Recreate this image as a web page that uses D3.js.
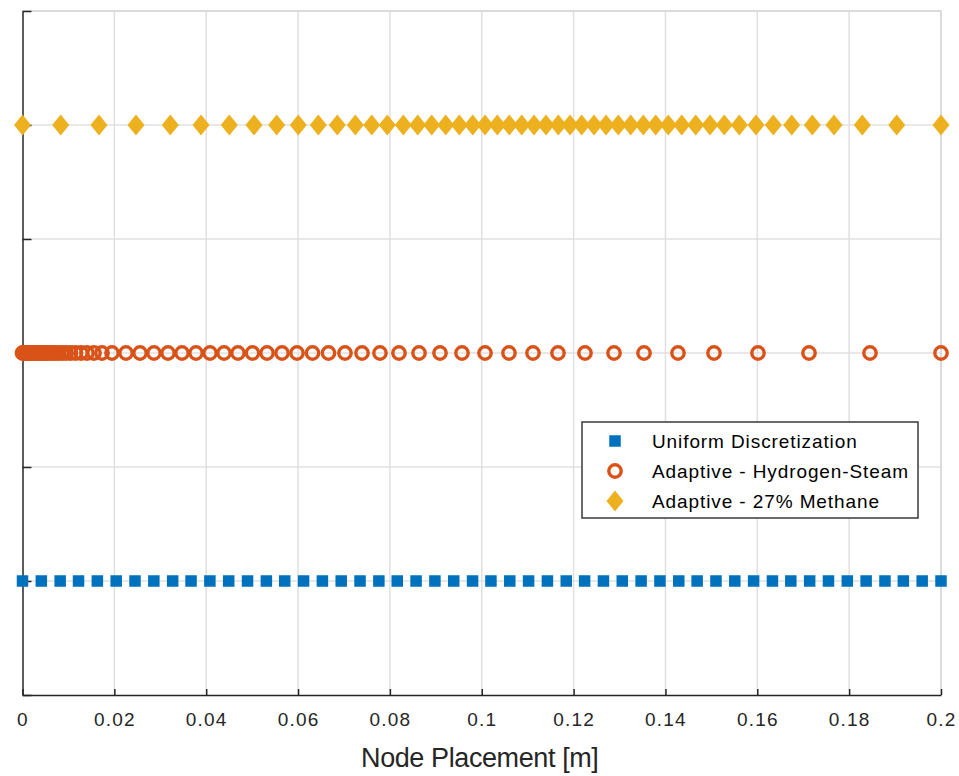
<!DOCTYPE html>
<html>
<head>
<meta charset="utf-8">
<script src="https://cdn.jsdelivr.net/npm/d3@7"></script>
<style>
  body { margin: 0; background: #fff; }
  svg { display: block; font-family: "Liberation Sans", Arial, sans-serif; }
</style>
</head>
<body>
<div id="chart"></div>
<script>
// node positions [m]
const uniformX = [0, 0.0041, 0.0082, 0.0122, 0.0163, 0.0204, 0.0245, 0.0286, 0.0327, 0.0367,
  0.0408, 0.0449, 0.0490, 0.0531, 0.0571, 0.0612, 0.0653, 0.0694, 0.0735, 0.0776,
  0.0816, 0.0857, 0.0898, 0.0939, 0.0980, 0.1020, 0.1061, 0.1102, 0.1143, 0.1184,
  0.1224, 0.1265, 0.1306, 0.1347, 0.1388, 0.1429, 0.1469, 0.1510, 0.1551, 0.1592,
  0.1633, 0.1673, 0.1714, 0.1755, 0.1796, 0.1837, 0.1878, 0.1918, 0.1959, 0.2000];

const hydrogenX = [0, 0.00033, 0.00065, 0.00109, 0.00152, 0.00196, 0.00240, 0.00283, 0.00327, 0.00370,
  0.00414, 0.00457, 0.00501, 0.00544, 0.00599, 0.00653, 0.00719, 0.00784, 0.00860, 0.00947,
  0.01045, 0.01154, 0.01274, 0.01404, 0.01557, 0.01731, 0.01949, 0.02254, 0.02559, 0.02863,
  0.03168, 0.03473, 0.03778, 0.04083, 0.04388, 0.04692, 0.05008, 0.05324, 0.05651, 0.05977,
  0.06315, 0.06663, 0.07022, 0.07393, 0.07784, 0.08198, 0.08634, 0.09091, 0.09570, 0.10071,
  0.10593, 0.11116, 0.11660, 0.12248, 0.12880, 0.13533, 0.14273, 0.15057, 0.16015, 0.17126,
  0.18454, 0.2];

const methaneX = [0, 0.00832, 0.01666, 0.02471, 0.03218, 0.03887, 0.04503, 0.05041, 0.05535, 0.06005,
  0.06441, 0.06855, 0.07247, 0.07604, 0.07943, 0.08292, 0.08605, 0.08910, 0.09215, 0.09511,
  0.09803, 0.10071, 0.10339, 0.10600, 0.10870, 0.11138, 0.11399, 0.11667, 0.11922, 0.12176,
  0.12444, 0.12706, 0.12973, 0.13243, 0.13518, 0.13788, 0.14062, 0.14354, 0.14659, 0.14970,
  0.15281, 0.15608, 0.15972, 0.16348, 0.16749, 0.17198, 0.17670, 0.18286, 0.19036, 0.2];

const seriesNames = ["Uniform Discretization", "Adaptive - Hydrogen-Steam", "Adaptive - 27% Methane"];
const seriesLevels = [1, 3, 5];
const seriesColors = ["#0072BD", "#D95319", "#EDB120"];

const xTicks = [0, 0.02, 0.04, 0.06, 0.08, 0.1, 0.12, 0.14, 0.16, 0.18, 0.2];
const xTickLabels = ["0", "0.02", "0.04", "0.06", "0.08", "0.1", "0.12", "0.14", "0.16", "0.18", "0.2"];
const yTicks = [0, 1, 2, 3, 4, 5, 6];
const xLabel = "Node Placement [m]";

const width = 959, height = 776;
const margin = {top: 11, right: 18, bottom: 81, left: 22.5};

const svg = d3.select("#chart").append("svg")
  .attr("width", width)
  .attr("height", height);

const x = d3.scaleLinear().domain([0, 0.2]).range([margin.left, width - margin.right]);
const y = d3.scaleLinear().domain([0, 6]).range([height - margin.bottom, margin.top]);

const x0 = x.range()[0], x1 = x.range()[1];
const y0 = y.range()[0], y1 = y.range()[1];

// grid
const grid = svg.append("g").attr("stroke", "#e0e0e0").attr("stroke-width", 1.5);
grid.selectAll("line.gx")
  .data(xTicks.slice(1))
  .enter().append("line")
    .attr("x1", d => x(d)).attr("x2", d => x(d))
    .attr("y1", y0).attr("y2", y1);
grid.selectAll("line.gy")
  .data(yTicks.slice(1))
  .enter().append("line")
    .attr("x1", x0).attr("x2", x1)
    .attr("y1", d => y(d)).attr("y2", d => y(d));

// box (top/right light)
svg.append("path")
  .attr("d", `M${x0},${y1}H${x1}V${y0}`)
  .attr("fill", "none")
  .attr("stroke", "#d6d6d6")
  .attr("stroke-width", 1.5);

// axes
const xAxis = d3.axisBottom(x)
  .tickValues(xTicks)
  .tickFormat((d, i) => xTickLabels[i])
  .tickSizeInner(-6)
  .tickSizeOuter(0)
  .tickPadding(18);

const gx = svg.append("g")
  .attr("transform", `translate(0,${y0})`)
  .call(xAxis);
gx.select(".domain").attr("stroke", "#262626").attr("stroke-width", 1.5);
gx.selectAll(".tick line").attr("stroke", "#262626").attr("stroke-width", 1.5);
gx.selectAll(".tick text")
  .attr("fill", "#262626")
  .style("font-size", "19px")
  .style("letter-spacing", "1.2px")
  .style("font-family", "'Liberation Sans', Arial, sans-serif");

const yAxis = d3.axisLeft(y)
  .tickValues(yTicks)
  .tickFormat("")
  .tickSizeInner(-9)
  .tickSizeOuter(0);

const gy = svg.append("g")
  .attr("transform", `translate(${x0},0)`)
  .call(yAxis);
gy.select(".domain").attr("stroke", "#262626").attr("stroke-width", 1.5);
gy.selectAll(".tick line").attr("stroke", "#262626").attr("stroke-width", 1.5);

svg.append("text")
  .attr("x", (x0 + x1) / 2 - 2)
  .attr("y", 767)
  .attr("text-anchor", "middle")
  .attr("fill", "#262626")
  .style("font-size", "27px")
  .style("letter-spacing", "-0.4px")
  .text(xLabel);

// markers
const squareSize = 11.5;
const circleR = 6.2, circleW = 3.4;
const diamond = (cx, cy) => `M${cx},${cy - 10.5}L${cx + 8.5},${cy}L${cx},${cy + 10.5}L${cx - 8.5},${cy}Z`;

svg.append("g")
  .selectAll("rect")
  .data(uniformX)
  .enter().append("rect")
    .attr("x", d => x(d) - squareSize / 2)
    .attr("y", y(seriesLevels[0]) - squareSize / 2)
    .attr("width", squareSize)
    .attr("height", squareSize)
    .attr("fill", seriesColors[0]);

svg.append("g")
  .selectAll("circle")
  .data(hydrogenX)
  .enter().append("circle")
    .attr("cx", d => x(d))
    .attr("cy", y(seriesLevels[1]))
    .attr("r", circleR)
    .attr("fill", "none")
    .attr("stroke", seriesColors[1])
    .attr("stroke-width", circleW);

svg.append("g")
  .selectAll("path")
  .data(methaneX)
  .enter().append("path")
    .attr("d", d => diamond(x(d), y(seriesLevels[2])))
    .attr("fill", seriesColors[2]);

// legend
const legend = svg.append("g").attr("transform", "translate(582,422)");
legend.append("rect")
  .attr("width", 336)
  .attr("height", 96)
  .attr("fill", "#fff")
  .attr("stroke", "#3a3a3a")
  .attr("stroke-width", 1.5);

const rows = legend.selectAll("g.row")
  .data(seriesNames)
  .enter().append("g")
    .attr("transform", (d, i) => `translate(0,${19 + i * 30})`);

rows.append("text")
  .attr("x", 70)
  .attr("y", 7)
  .attr("fill", "#000")
  .style("font-size", "19px")
  .style("letter-spacing", "0.9px")
  .text(d => d);

rows.filter((d, i) => i === 0).append("rect")
  .attr("x", 33 - squareSize / 2).attr("y", -squareSize / 2)
  .attr("width", squareSize).attr("height", squareSize)
  .attr("fill", seriesColors[0]);
rows.filter((d, i) => i === 1).append("circle")
  .attr("cx", 33).attr("cy", 0).attr("r", circleR)
  .attr("fill", "none").attr("stroke", seriesColors[1]).attr("stroke-width", circleW);
rows.filter((d, i) => i === 2).append("path")
  .attr("d", diamond(33, 0))
  .attr("fill", seriesColors[2]);
</script>
</body>
</html>
